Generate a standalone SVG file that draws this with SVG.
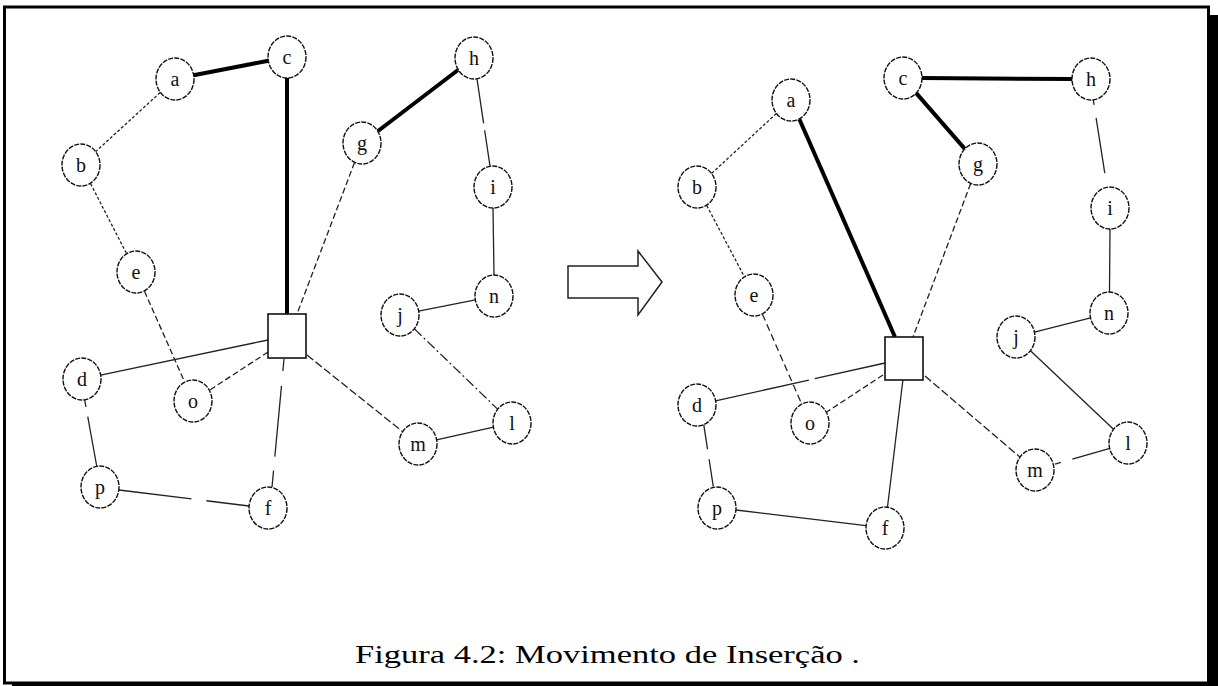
<svg xmlns="http://www.w3.org/2000/svg" width="1218" height="686" viewBox="0 0 1218 686">
<style>
.n ellipse{fill:#fff;stroke:#111;stroke-width:1.4;stroke-dasharray:5 1.2}
.n text{font-family:"Liberation Serif","Times New Roman",serif;font-size:20px;fill:#111;text-anchor:middle;dominant-baseline:central}
.sq rect{fill:#fff;stroke:#111;stroke-width:1.6}
.e line{stroke:#222;stroke-width:1.3;fill:none}
.e line.t{stroke:#000;stroke-width:4}
.d1{stroke-dasharray:3 2}
.d2{stroke-dasharray:6 3}
.cap{font-family:"Liberation Serif","Times New Roman",serif;font-size:26px;fill:#000}
</style>
<rect width="1218" height="686" fill="#fff"/>
<g id="frame">
<rect x="4.5" y="7" width="1204" height="676" fill="none" stroke="#000" stroke-width="3"/>
<rect x="1208" y="15" width="10" height="671" fill="#000"/>
<rect x="12" y="682" width="1206" height="4" fill="#000"/>
</g>
<g id="connectors" class="e">
<!-- left graph -->
<line class="t" x1="193.6" y1="75.3" x2="268.4" y2="60.7"/>
<line class="t" x1="287" y1="78" x2="287" y2="314"/>
<line class="t" x1="378" y1="131" x2="458" y2="70"/>
<line class="d1" x1="160.2" y1="92.5" x2="95.8" y2="151.5"/>
<line class="d1" x1="90.6" y1="183.7" x2="126.4" y2="253.3"/>
<line class="d2" x1="144.5" y1="291.2" x2="184.5" y2="381.8"/>
<line class="d2" x1="354.5" y1="162.6" x2="297" y2="314"/>
<line x1="477" y1="78.8" x2="490" y2="166.2" stroke-dasharray="45 7"/>
<line x1="493" y1="208" x2="494" y2="275"/>
<line x1="475.4" y1="299.8" x2="418.6" y2="311.2"/>
<line x1="414.4" y1="328.9" x2="497.6" y2="409.1" stroke-dasharray="10 3 2 3"/>
<line x1="493.5" y1="427.1" x2="436.5" y2="439.9"/>
<line x1="307" y1="355" x2="402.4" y2="431.5" stroke-dasharray="8 3"/>
<line x1="268" y1="340" x2="100.6" y2="375.1"/>
<line class="d2" x1="268" y1="352" x2="209.7" y2="390.1"/>
<line x1="284" y1="359" x2="272" y2="487" stroke-dasharray="12 15 71 14 20"/>
<line x1="84.7" y1="400" x2="96.7" y2="466" stroke-dasharray="7 10 60"/>
<line x1="119" y1="490" x2="249" y2="506" stroke-dasharray="73 15 60"/>
<!-- right graph -->
<line class="t" x1="922" y1="78" x2="1072" y2="79"/>
<line class="t" x1="916.2" y1="93.1" x2="964.8" y2="148.9"/>
<line class="t" x1="799.4" y1="119.2" x2="895" y2="337"/>
<line class="d1" x1="776.3" y1="113.6" x2="711.7" y2="173.4"/>
<line class="d1" x1="706.8" y1="205.6" x2="744.2" y2="276.4"/>
<line x1="762.4" y1="314.2" x2="801.6" y2="403.8" stroke-dasharray="7 4"/>
<line class="d2" x1="970.6" y1="183.7" x2="913" y2="337"/>
<line x1="1093.3" y1="100" x2="1107" y2="187.2" stroke-dasharray="5 13 56 20"/>
<line x1="1110" y1="229" x2="1109.5" y2="292"/>
<line x1="1090.6" y1="317.8" x2="1034.4" y2="332.2"/>
<line x1="1030.5" y1="350.7" x2="1113.5" y2="429.3"/>
<line x1="1109.8" y1="448.3" x2="1053.2" y2="464.7" stroke-dasharray="39 12 6"/>
<line x1="925" y1="376" x2="1019.8" y2="457" stroke-dasharray="8 3"/>
<line x1="885" y1="363" x2="715.5" y2="400.9" stroke-dasharray="72 6 200"/>
<line class="d2" x1="883" y1="375" x2="826.7" y2="412"/>
<line x1="903" y1="379" x2="887.5" y2="507"/>
<line x1="703.3" y1="421.7" x2="713.3" y2="486.7" stroke-dasharray="28 10 30"/>
<line x1="736" y1="510" x2="866" y2="525.7"/>
</g>
<g id="left-square" class="sq"><rect x="268" y="314" width="38" height="44"/></g>
<g id="left-a" class="n"><ellipse cx="175" cy="79" rx="19" ry="21"/><text x="175" y="79">a</text></g>
<g id="left-b" class="n"><ellipse cx="81" cy="165" rx="19" ry="21"/><text x="81" y="165">b</text></g>
<g id="left-c" class="n"><ellipse cx="287" cy="57" rx="19" ry="21"/><text x="287" y="57">c</text></g>
<g id="left-e" class="n"><ellipse cx="136" cy="272" rx="19" ry="21"/><text x="136" y="272">e</text></g>
<g id="left-g" class="n"><ellipse cx="362" cy="143" rx="19" ry="21"/><text x="362" y="143">g</text></g>
<g id="left-h" class="n"><ellipse cx="474" cy="58" rx="19" ry="21"/><text x="474" y="58">h</text></g>
<g id="left-i" class="n"><ellipse cx="493" cy="187" rx="19" ry="21"/><text x="493" y="187">i</text></g>
<g id="left-n" class="n"><ellipse cx="494" cy="296" rx="19" ry="21"/><text x="494" y="296">n</text></g>
<g id="left-j" class="n"><ellipse cx="400" cy="315" rx="19" ry="21"/><text x="400" y="315">j</text></g>
<g id="left-d" class="n"><ellipse cx="82" cy="379" rx="19" ry="21"/><text x="82" y="379">d</text></g>
<g id="left-o" class="n"><ellipse cx="193" cy="401" rx="19" ry="21"/><text x="193" y="401">o</text></g>
<g id="left-l" class="n"><ellipse cx="512" cy="423" rx="19" ry="21"/><text x="512" y="423">l</text></g>
<g id="left-m" class="n"><ellipse cx="418" cy="444" rx="19" ry="21"/><text x="418" y="444">m</text></g>
<g id="left-p" class="n"><ellipse cx="100" cy="487" rx="19" ry="21"/><text x="100" y="487">p</text></g>
<g id="left-f" class="n"><ellipse cx="268" cy="508" rx="19" ry="21"/><text x="268" y="508">f</text></g>
<g id="arrow"><polygon points="568,266 638,266 638,251 662,282 638,315 638,298 568,298" fill="#fff" stroke="#222" stroke-width="1.5"/></g>
<g id="right-square" class="sq"><rect x="885" y="337" width="38" height="43"/></g>
<g id="right-a" class="n"><ellipse cx="791" cy="100" rx="19" ry="21"/><text x="791" y="100">a</text></g>
<g id="right-b" class="n"><ellipse cx="697" cy="187" rx="19" ry="21"/><text x="697" y="187">b</text></g>
<g id="right-c" class="n"><ellipse cx="903" cy="78" rx="19" ry="21"/><text x="903" y="78">c</text></g>
<g id="right-e" class="n"><ellipse cx="754" cy="295" rx="19" ry="21"/><text x="754" y="295">e</text></g>
<g id="right-g" class="n"><ellipse cx="978" cy="164" rx="19" ry="21"/><text x="978" y="164">g</text></g>
<g id="right-h" class="n"><ellipse cx="1091" cy="79" rx="19" ry="21"/><text x="1091" y="79">h</text></g>
<g id="right-i" class="n"><ellipse cx="1110" cy="208" rx="19" ry="21"/><text x="1110" y="208">i</text></g>
<g id="right-n" class="n"><ellipse cx="1109" cy="313" rx="19" ry="21"/><text x="1109" y="313">n</text></g>
<g id="right-j" class="n"><ellipse cx="1016" cy="337" rx="19" ry="21"/><text x="1016" y="337">j</text></g>
<g id="right-d" class="n"><ellipse cx="697" cy="405" rx="19" ry="21"/><text x="697" y="405">d</text></g>
<g id="right-o" class="n"><ellipse cx="810" cy="423" rx="19" ry="21"/><text x="810" y="423">o</text></g>
<g id="right-l" class="n"><ellipse cx="1128" cy="443" rx="19" ry="21"/><text x="1128" y="443">l</text></g>
<g id="right-m" class="n"><ellipse cx="1035" cy="470" rx="19" ry="21"/><text x="1035" y="470">m</text></g>
<g id="right-p" class="n"><ellipse cx="717" cy="508" rx="19" ry="21"/><text x="717" y="508">p</text></g>
<g id="right-f" class="n"><ellipse cx="885" cy="528" rx="19" ry="21"/><text x="885" y="528">f</text></g>
<text class="cap" x="355" y="663" textLength="505" lengthAdjust="spacingAndGlyphs">Figura 4.2: Movimento de Inserção .</text>
</svg>
